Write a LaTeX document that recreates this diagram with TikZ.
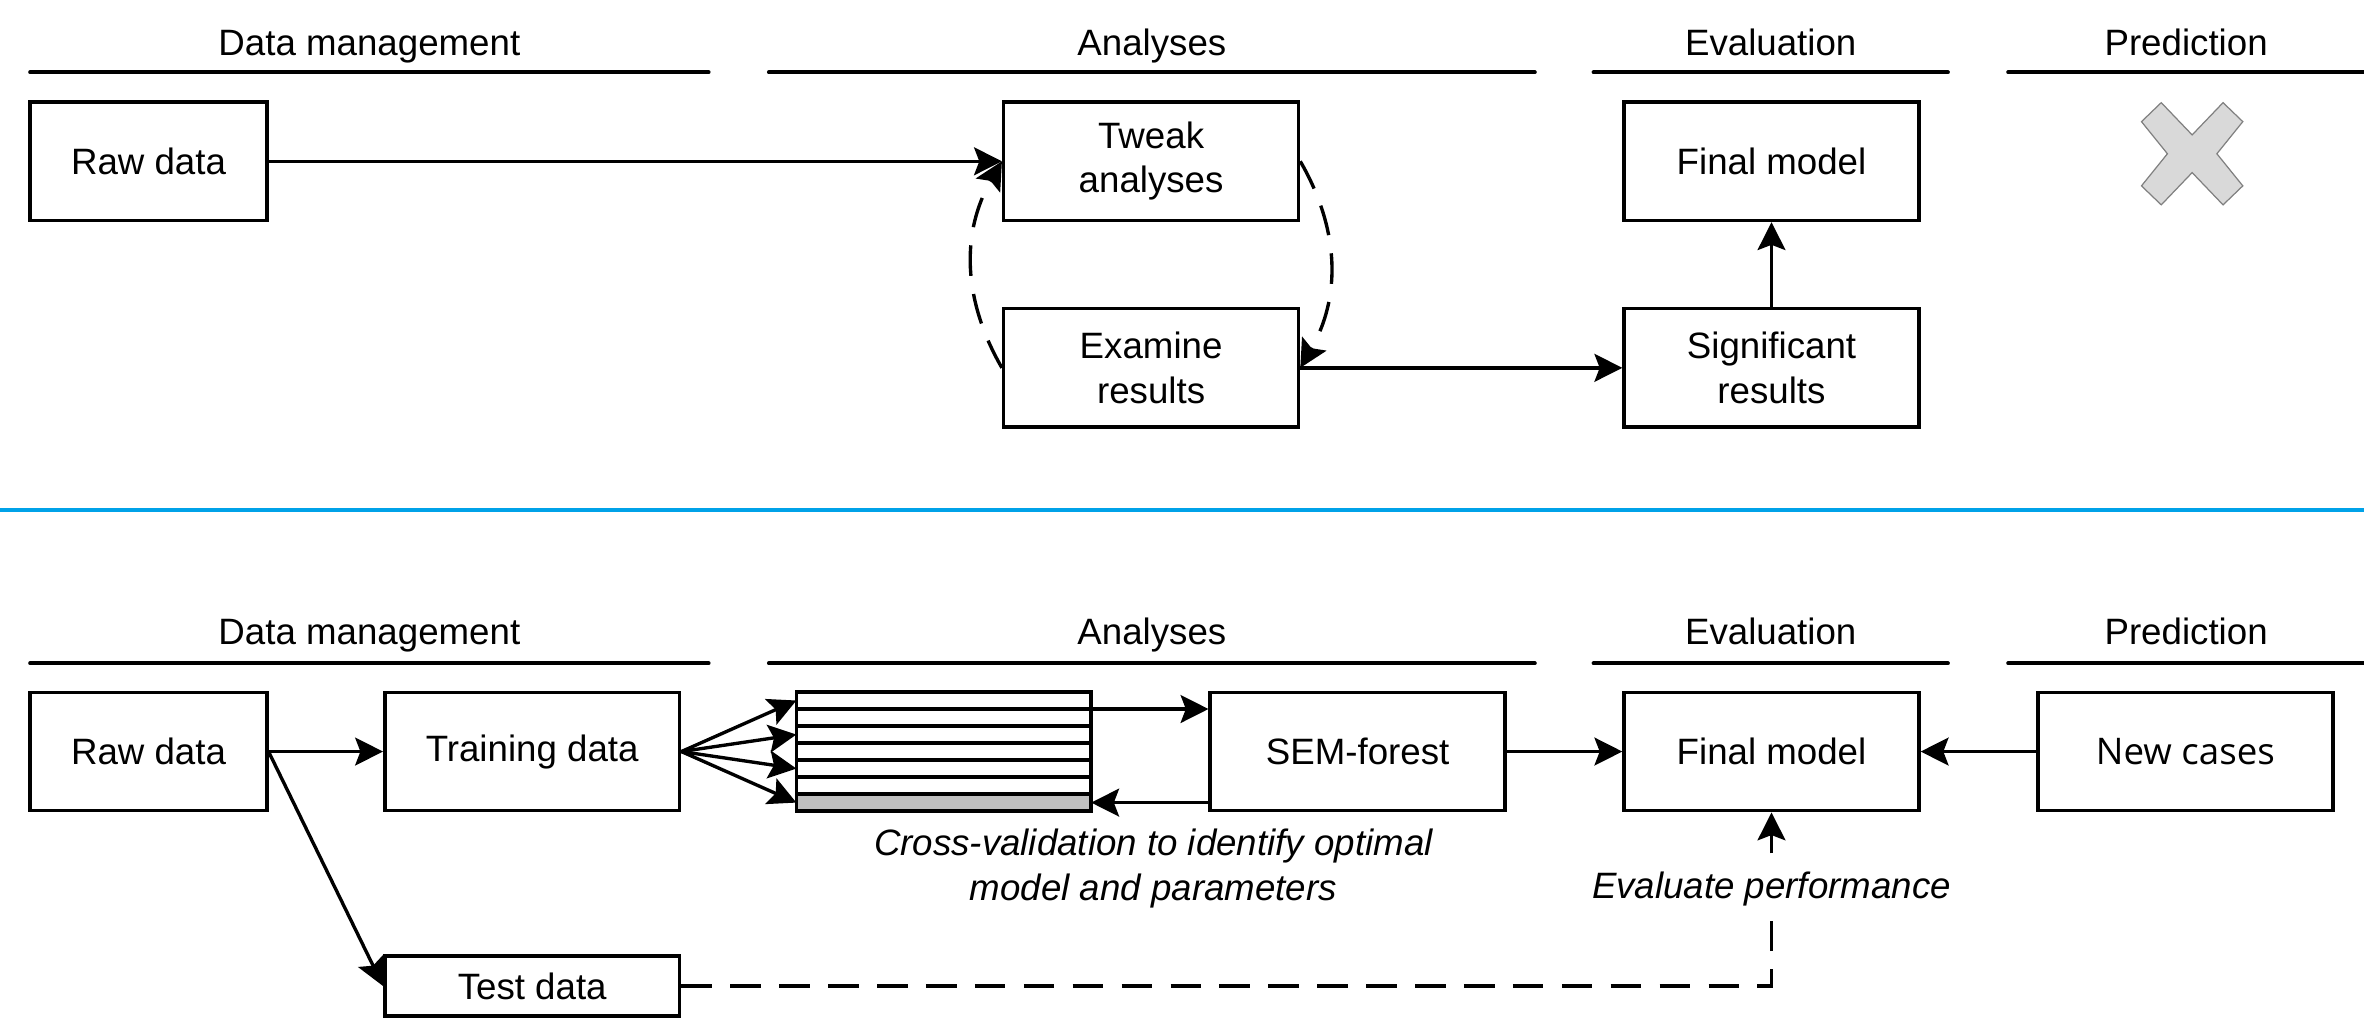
\documentclass[tikz,border=0pt]{standalone}
\usepackage{fontspec}
\setmainfont{Liberation Sans}
\newfontfamily\ncfont{Open Sans}
\usepackage{tikz}
\usetikzlibrary{arrows.meta,calc}
\definecolor{sepblue}{RGB}{0,162,232}
\tikzset{
  box/.style={draw, line width=1.15pt, minimum width=3.39cm, minimum height=1.36cm, align=center, inner sep=2pt},
  rawbox/.style={box, minimum width=2.72cm},
  testbox/.style={box, minimum height=0.69cm},
  strip/.style={draw, line width=1.15pt, minimum width=3.39cm, minimum height=0.1956cm, inner sep=0pt, outer sep=0pt},
  hline/.style={line width=1.3pt, line cap=round},
  arr/.style={line width=1.1pt, -{Stealth[length=3.2mm,width=3.2mm,inset=0.6mm]}},
  darr/.style={arr, dash pattern=on 10pt off 6pt},
  note/.style={align=center, font=\fontsize{12}{14.5}\selectfont\itshape}
}
\begin{document}
\begin{tikzpicture}[x=0.01733cm, y=0.01733cm, font=\fontsize{12}{14.5}\selectfont]
    \useasboundingbox (0,0) rectangle (1568,683);
    % headers of both rows
    \foreach \r/\ty/\ly in {a/646.5/635, b/255.5/243} {
        \foreach \n/\cx/\xa/\xb/\t in {dm/245/20/470/Data management, an/764/510/1018/Analyses, ev/1174.5/1057/1292/Evaluation, pr/1450/1332/1568/Prediction} {
            \node[anchor=base] (\n\r) at (\cx,\ty) {\t};
            \draw[hline] (\xa,\ly) -- (\xb,\ly);
        }
    }

    % top row
    \node[rawbox] (rawA) at (98.5,576) {Raw data};
    \node[box] (tweak) at (763.5,576) {Tweak\\analyses};
    \node[box] (examine) at (763.5,439) {Examine\\results};
    \node[box] (finalA) at (1175,576) {Final model};
    \node[box] (signif) at (1175,439) {Significant\\results};
    \coordinate (nox) at (1454,581);
    \draw[gray, fill=black!15, line width=0.4pt, shift={(nox)}] (0,12.5) -- (20.5,33.9) -- (33.6,21.3) -- (16.4,0) -- (33.6,-21.3) -- (20.5,-33.9)
        -- (0,-12.5) -- (-20.5,-33.9) -- (-33.6,-21.3) -- (-16.4,0) -- (-33.6,21.3) -- (-20.5,33.9) -- cycle;

    \draw[arr] (rawA) -- (tweak);
    \draw[darr] (examine.west) to[out=120,in=240] (tweak.west);
    \draw[darr] (tweak.east) to[out=-60,in=60] (examine.east);
    \draw[arr] (examine) -- (signif);
    \draw[arr] (signif) -- (finalA);

    \draw[sepblue, line width=1.3pt] (0,345) -- (1568,345);

    % bottom row
    \node[rawbox] (rawB) at (98.5,184.5) {Raw data};
    \node[box] (train) at (353,184.5) {Training data};
    \node[testbox] (test) at (353,29) {Test data};
    \foreach \k in {1,...,6}
        \node[strip] (f\k) at (626,{224-(\k-0.5)*11.286}) {};
    \node[strip, fill=black!25] (f7) at (626,{224-6.5*11.286}) {};
    \node[box] (sem) at (900.5,184.5) {SEM-forest};
    \node[box] (finalB) at (1175,184.5) {Final model};
    \node[box] (newc) at (1449.5,184.5) {\ncfont New cases};
    \node[note] (cvnote) at (765,107) {Cross-validation to identify optimal\\model and parameters};

    \draw[arr] (rawB) -- (train);
    \draw[arr] (rawB.east) -- (test.west);
    \foreach \k in {1,3,5,7}
        \draw[arr] (train.east) -- (f\k.west);
    \draw[arr] (f1.south east) -- (f1.south east -| sem.west);
    \draw[arr] (sem.west |- f7.east) -- (f7.east);
    \draw[arr] (sem) -- (finalB);
    \draw[arr] (newc) -- (finalB);
    \draw[darr] (test.east) -| node[note, pos=0.78, fill=white, inner sep=1pt] (evalnote) {Evaluate performance} (finalB.south);
\end{tikzpicture}
\end{document}
